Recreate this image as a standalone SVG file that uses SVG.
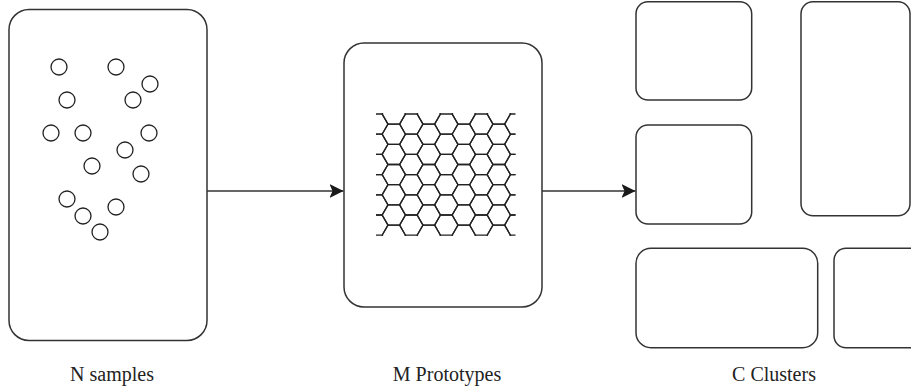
<svg xmlns="http://www.w3.org/2000/svg" width="911" height="390" viewBox="0 0 911 390">
<style>
.box{fill:#fff;stroke:#333;stroke-width:1.5}
.pt{fill:none;stroke:#222;stroke-width:1.3}
.hx{fill:none;stroke:#222;stroke-width:1.3}
.edge{fill:none;stroke:#333;stroke-width:1.4}
.lbl{font-family:"Liberation Serif","Times New Roman",serif;font-size:20px;fill:#222;text-anchor:middle}
</style>
<defs>
<marker id="arr" markerWidth="14" markerHeight="14" refX="14" refY="7" orient="auto" markerUnits="userSpaceOnUse">
<path d="M0,0 L14,7 L0,14 L3,7 Z" fill="#1a1a1a"/>
</marker>
<path id="h" class="hx" d="M-11.667,0 L-5.833,-10.105 L5.833,-10.105 L11.667,0 L5.833,10.105 L-5.833,10.105 Z"/>
<clipPath id="grid"><rect x="376" y="113" width="139.5" height="123"/></clipPath>
</defs>
<g id="samples">
<rect class="box" x="9" y="9.5" width="198" height="331" rx="20"/>
<circle class="pt" cx="59" cy="67" r="8"/>
<circle class="pt" cx="116" cy="67" r="8"/>
<circle class="pt" cx="150" cy="84" r="8"/>
<circle class="pt" cx="67" cy="100" r="8"/>
<circle class="pt" cx="133" cy="100" r="8"/>
<circle class="pt" cx="51" cy="133" r="8"/>
<circle class="pt" cx="83" cy="133" r="8"/>
<circle class="pt" cx="149" cy="133" r="8"/>
<circle class="pt" cx="125" cy="150" r="8"/>
<circle class="pt" cx="92" cy="166" r="8"/>
<circle class="pt" cx="141" cy="174" r="8"/>
<circle class="pt" cx="67" cy="199" r="8"/>
<circle class="pt" cx="116" cy="207" r="8"/>
<circle class="pt" cx="83" cy="216" r="8"/>
<circle class="pt" cx="100" cy="232" r="8"/>
<text class="lbl" x="112" y="381">N samples</text>
</g>
<g id="prototypes">
<rect class="box" x="344" y="43" width="198" height="264" rx="20"/>
<g clip-path="url(#grid)">
<use href="#h" x="376.3" y="124.1"/><use href="#h" x="376.3" y="144.3"/><use href="#h" x="376.3" y="164.5"/><use href="#h" x="376.3" y="184.7"/><use href="#h" x="376.3" y="204.9"/><use href="#h" x="376.3" y="225.1"/>
<use href="#h" x="411.3" y="124.1"/><use href="#h" x="411.3" y="144.3"/><use href="#h" x="411.3" y="164.5"/><use href="#h" x="411.3" y="184.7"/><use href="#h" x="411.3" y="204.9"/><use href="#h" x="411.3" y="225.1"/>
<use href="#h" x="446.3" y="124.1"/><use href="#h" x="446.3" y="144.3"/><use href="#h" x="446.3" y="164.5"/><use href="#h" x="446.3" y="184.7"/><use href="#h" x="446.3" y="204.9"/><use href="#h" x="446.3" y="225.1"/>
<use href="#h" x="481.3" y="124.1"/><use href="#h" x="481.3" y="144.3"/><use href="#h" x="481.3" y="164.5"/><use href="#h" x="481.3" y="184.7"/><use href="#h" x="481.3" y="204.9"/><use href="#h" x="481.3" y="225.1"/>
<use href="#h" x="516.3" y="124.1"/><use href="#h" x="516.3" y="144.3"/><use href="#h" x="516.3" y="164.5"/><use href="#h" x="516.3" y="184.7"/><use href="#h" x="516.3" y="204.9"/><use href="#h" x="516.3" y="225.1"/>
<use href="#h" x="393.8" y="114"/><use href="#h" x="393.8" y="134.2"/><use href="#h" x="393.8" y="154.4"/><use href="#h" x="393.8" y="174.6"/><use href="#h" x="393.8" y="194.8"/><use href="#h" x="393.8" y="215"/><use href="#h" x="393.8" y="235.2"/>
<use href="#h" x="428.8" y="114"/><use href="#h" x="428.8" y="134.2"/><use href="#h" x="428.8" y="154.4"/><use href="#h" x="428.8" y="174.6"/><use href="#h" x="428.8" y="194.8"/><use href="#h" x="428.8" y="215"/><use href="#h" x="428.8" y="235.2"/>
<use href="#h" x="463.8" y="114"/><use href="#h" x="463.8" y="134.2"/><use href="#h" x="463.8" y="154.4"/><use href="#h" x="463.8" y="174.6"/><use href="#h" x="463.8" y="194.8"/><use href="#h" x="463.8" y="215"/><use href="#h" x="463.8" y="235.2"/>
<use href="#h" x="498.8" y="114"/><use href="#h" x="498.8" y="134.2"/><use href="#h" x="498.8" y="154.4"/><use href="#h" x="498.8" y="174.6"/><use href="#h" x="498.8" y="194.8"/><use href="#h" x="498.8" y="215"/><use href="#h" x="498.8" y="235.2"/>
</g>
<text class="lbl" x="447" y="381">M Prototypes</text>
</g>
<g id="clusters">
<rect class="box" x="636" y="1.7" width="115.7" height="98.3" rx="12"/>
<rect class="box" x="636" y="125" width="115.7" height="99" rx="12"/>
<rect class="box" x="801" y="1.7" width="109" height="214" rx="12"/>
<rect class="box" x="636" y="248.3" width="181.7" height="99.4" rx="15"/>
<rect class="box" x="834" y="248.3" width="95" height="99.4" rx="12"/>
<text class="lbl" x="774" y="381">C Clusters</text>
</g>
<g id="connectors">
<line class="edge" x1="207" y1="191" x2="343.5" y2="191" marker-end="url(#arr)"/>
<line class="edge" x1="542" y1="191" x2="635.5" y2="191" marker-end="url(#arr)"/>
</g>
</svg>
